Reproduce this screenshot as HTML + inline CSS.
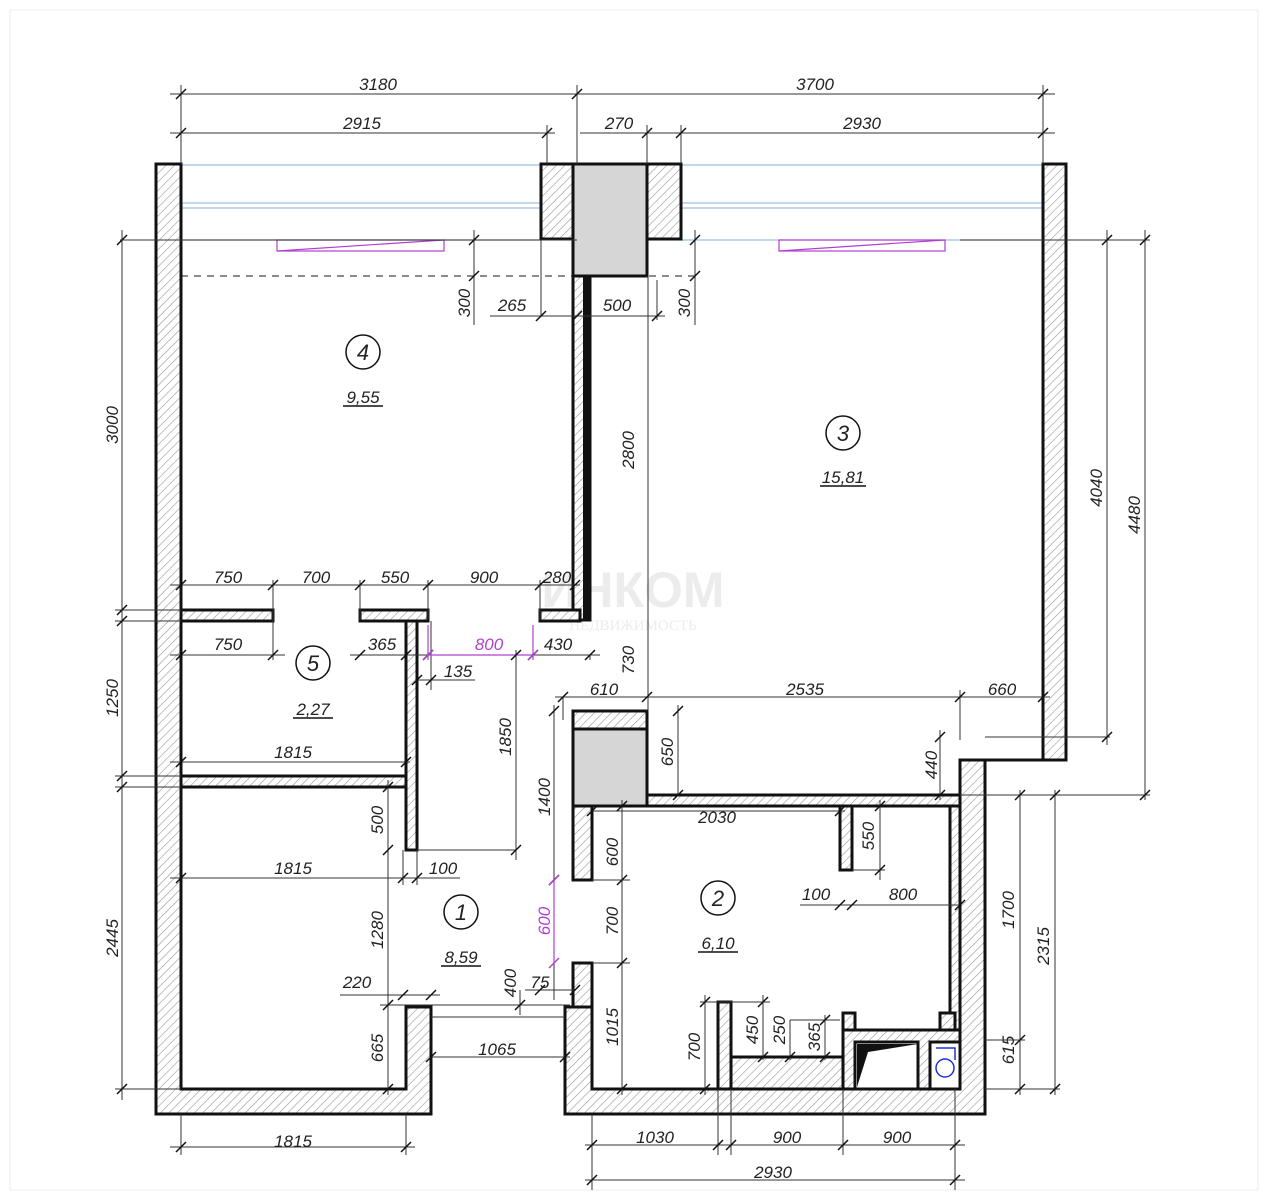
<!DOCTYPE html>
<html><head><meta charset="utf-8"><style>
html,body{margin:0;padding:0;background:#fff}
svg{display:block}
text{font-family:"Liberation Sans",sans-serif;font-style:italic;font-size:17px;fill:#222}
.w{fill:url(#h);stroke:#111;stroke-width:3}
.c{fill:#d6d6d6;stroke:#111;stroke-width:3}
.d{stroke:#333;stroke-width:1;fill:none}
.t{stroke:#111;stroke-width:1.5}
.m{stroke:#b040d0;stroke-width:1.2;fill:none}
.b{stroke:#9cbfe0;stroke-width:1.2;fill:none}
</style></head><body>
<svg width="1268" height="1200" viewBox="0 0 1268 1200" xmlns="http://www.w3.org/2000/svg">
<defs>
<pattern id="h" width="6" height="6" patternUnits="userSpaceOnUse" patternTransform="rotate(45)">
<rect width="6" height="6" fill="#fff"/><line x1="0" y1="0" x2="0" y2="6" stroke="#999" stroke-width="1.2"/></pattern>
</defs>
<rect x="10" y="10" width="1248" height="1180" fill="none" stroke="#eee"/>

<!-- watermark -->
<text x="633" y="607" text-anchor="middle" style="font-size:50px;font-weight:bold;font-style:normal;fill:#ececec">ИНКОМ</text>
<text x="633" y="630" text-anchor="middle" style="font-size:15px;font-style:normal;fill:#ececec;font-family:'Liberation Serif',serif">НЕДВИЖИМОСТЬ</text>

<!-- windows -->
<g class="b">
<line x1="181" y1="165" x2="541" y2="165"/><line x1="681" y1="165" x2="1043" y2="165"/>
<rect x="181" y="203" width="360" height="5"/><rect x="681" y="203" width="362" height="5"/>
<line x1="181" y1="240" x2="541" y2="240"/><line x1="681" y1="240" x2="1043" y2="240"/>
</g>
<rect x="277" y="240" width="167" height="11" class="m" stroke-width="2"/>
<line x1="277" y1="251" x2="444" y2="240" class="m" stroke-width="2"/>
<rect x="779" y="240" width="166" height="11" class="m" stroke-width="2"/>
<line x1="779" y1="251" x2="945" y2="240" class="m" stroke-width="2"/>
<line x1="181" y1="276" x2="700" y2="276" stroke="#666" stroke-width="1.5" stroke-dasharray="7,6"/>

<!-- walls -->
<path class="w" d="M156 164 H181 V1089 H406 V1007 H431 V1114 H156 Z"/>
<path class="w" d="M565 1007 H592 V1089 H960 V760 H1043 V164 H1066 V760 H985 V1114 H565 Z"/>
<rect class="w" x="541" y="164" width="32" height="75"/>
<rect class="c" x="573" y="164" width="74" height="112"/>
<rect class="w" x="647" y="164" width="34" height="75"/>
<rect class="w" x="573" y="276" width="17" height="344"/>
<rect x="583" y="276" width="7" height="344" fill="#111"/>
<rect class="w" x="181" y="610" width="92" height="11"/>
<rect class="w" x="360" y="610" width="68" height="11"/>
<rect class="w" x="540" y="610" width="40" height="11"/>
<rect class="w" x="181" y="776" width="236" height="11"/>
<rect class="w" x="406" y="621" width="11" height="229"/>
<rect class="w" x="573" y="711" width="74" height="18"/>
<rect class="c" x="573" y="729" width="74" height="77"/>
<rect class="w" x="647" y="795" width="313" height="11"/>
<rect class="w" x="573" y="806" width="19" height="74"/>
<rect class="w" x="573" y="963" width="19" height="44"/>
<rect class="w" x="840" y="806" width="12" height="64"/>
<rect class="w" x="950" y="806" width="10" height="230"/>
<rect class="w" x="718" y="1002" width="13" height="87"/>
<rect class="w" x="731" y="1057" width="112" height="32"/>
<rect class="w" x="843" y="1030" width="117" height="59"/>
<rect class="w" x="843" y="1013" width="12" height="17"/>
<rect class="w" x="940" y="1013" width="15" height="17"/>
<rect x="855" y="1042" width="63" height="47" fill="#fff" stroke="#111" stroke-width="3"/>
<path d="M857 1044 L918 1044 L868 1052 L857 1087 Z" fill="#111"/>
<rect x="930" y="1042" width="30" height="47" fill="#fff" stroke="#111" stroke-width="3"/>
<path d="M936 1048 H955 V1060" stroke="#2030d0" stroke-width="1.5" fill="none"/>
<circle cx="945" cy="1068" r="9" stroke="#2030d0" stroke-width="1.5" fill="none"/>

<!-- dimension lines -->
<g class="d">
<line x1="170" y1="94" x2="1055" y2="94"/><line x1="181" y1="85" x2="181" y2="164"/><line x1="577" y1="85" x2="577" y2="164"/><line x1="1043" y1="85" x2="1043" y2="164"/>
<line x1="170" y1="133" x2="555" y2="133"/><line x1="580" y1="133" x2="1055" y2="133"/><line x1="547" y1="125" x2="547" y2="164"/><line x1="647" y1="125" x2="647" y2="164"/><line x1="681" y1="125" x2="681" y2="164"/>
<line x1="120" y1="240" x2="577" y2="240"/><line x1="960" y1="240" x2="1150" y2="240"/>
<line x1="474" y1="230" x2="474" y2="325"/><line x1="490" y1="316" x2="665" y2="316"/><line x1="541" y1="240" x2="541" y2="316"/><line x1="657" y1="280" x2="657" y2="320"/><line x1="695" y1="230" x2="695" y2="325"/>
<line x1="122" y1="230" x2="122" y2="1100"/><line x1="115" y1="610" x2="181" y2="610"/><line x1="115" y1="621" x2="181" y2="621"/><line x1="115" y1="776" x2="181" y2="776"/><line x1="115" y1="787" x2="181" y2="787"/><line x1="115" y1="1089" x2="181" y2="1089"/>
<line x1="170" y1="585" x2="580" y2="585"/><line x1="273" y1="580" x2="273" y2="660"/><line x1="360" y1="580" x2="360" y2="620"/><line x1="428" y1="580" x2="428" y2="620"/><line x1="540" y1="580" x2="540" y2="620"/>
<line x1="170" y1="655" x2="285" y2="655"/><line x1="350" y1="655" x2="600" y2="655"/>
<line x1="417" y1="680" x2="475" y2="680"/><line x1="431" y1="621" x2="431" y2="690"/>
<line x1="170" y1="762" x2="410" y2="762"/>
<line x1="170" y1="878" x2="460" y2="878"/><line x1="403" y1="850" x2="403" y2="885"/><line x1="417" y1="850" x2="417" y2="885"/>
<line x1="417" y1="850" x2="516" y2="850"/><line x1="516" y1="650" x2="516" y2="860"/>
<line x1="388" y1="780" x2="388" y2="1095"/><line x1="380" y1="1005" x2="570" y2="1005"/>
<line x1="340" y1="995" x2="440" y2="995"/><line x1="431" y1="1017" x2="565" y2="1017"/>
<line x1="431" y1="1057" x2="570" y2="1057"/>
<line x1="520" y1="990" x2="520" y2="1015"/><line x1="525" y1="990" x2="575" y2="990"/>
<line x1="170" y1="1147" x2="415" y2="1147"/><line x1="181" y1="1114" x2="181" y2="1155"/><line x1="406" y1="1114" x2="406" y2="1155"/>
<line x1="648" y1="276" x2="648" y2="711"/><line x1="590" y1="655" x2="590" y2="660"/>
<line x1="555" y1="697" x2="1050" y2="697"/><line x1="563" y1="697" x2="563" y2="720"/><line x1="960" y1="690" x2="960" y2="740"/>
<line x1="554" y1="705" x2="554" y2="1000"/><line x1="678" y1="705" x2="678" y2="795"/>
<line x1="940" y1="730" x2="940" y2="800"/><line x1="985" y1="737" x2="1110" y2="737"/>
<line x1="1107" y1="230" x2="1107" y2="745"/><line x1="1145" y1="230" x2="1145" y2="800"/><line x1="960" y1="795" x2="1150" y2="795"/>
<line x1="592" y1="811" x2="845" y2="811"/>
<line x1="622" y1="800" x2="622" y2="1095"/><line x1="592" y1="880" x2="630" y2="880"/><line x1="592" y1="963" x2="630" y2="963"/>
<line x1="880" y1="800" x2="880" y2="880"/><line x1="852" y1="870" x2="885" y2="870"/>
<line x1="800" y1="905" x2="960" y2="905"/>
<line x1="1020" y1="790" x2="1020" y2="1095"/><line x1="1055" y1="790" x2="1055" y2="1095"/><line x1="985" y1="1040" x2="1025" y2="1040"/><line x1="985" y1="1089" x2="1060" y2="1089"/>
<line x1="705" y1="995" x2="705" y2="1095"/><line x1="700" y1="1002" x2="770" y2="1002"/><line x1="763" y1="995" x2="763" y2="1060"/><line x1="790" y1="1020" x2="790" y2="1060"/><line x1="825" y1="1015" x2="825" y2="1060"/><line x1="790" y1="1020" x2="840" y2="1020"/>
<line x1="585" y1="1145" x2="965" y2="1145"/><line x1="585" y1="1180" x2="965" y2="1180"/>
<line x1="592" y1="1114" x2="592" y2="1190"/><line x1="718" y1="1089" x2="718" y2="1155"/><line x1="731" y1="1089" x2="731" y2="1155"/><line x1="843" y1="1089" x2="843" y2="1155"/><line x1="955" y1="1089" x2="955" y2="1190"/>
</g>
<line class="m" x1="428" y1="655" x2="533" y2="655"/><line class="m" x1="428" y1="625" x2="428" y2="660"/><line class="m" x1="533" y1="625" x2="533" y2="660"/>
<line class="m" x1="554" y1="880" x2="554" y2="963"/>

<!-- ticks -->
<g class="t">
<path d="M176 99l10-10M572 99l10-10M1038 99l10-10M176 138l10-10M542 138l10-10M642 138l10-10M676 138l10-10M1038 138l10-10
M117 245l10-10M117 615l10-10M117 626l10-10M117 781l10-10M117 792l10-10M117 1094l10-10
M469 245l10-10M469 281l10-10M536 321l10-10M572 321l10-10M652 321l10-10M690 245l10-10M690 281l10-10
M176 590l10-10M268 590l10-10M355 590l10-10M423 590l10-10M535 590l10-10M570 590l10-10
M176 660l10-10M268 660l10-10M355 660l10-10M401 660l10-10M423 660l10-10M528 660l10-10M585 660l10-10
M412 685l10-10M426 685l10-10M176 767l10-10M401 767l10-10M176 883l10-10M398 883l10-10M412 883l10-10
M511 660l10-10M511 855l10-10M383 792l10-10M383 855l10-10M383 1010l10-10M383 1094l10-10
M398 1000l10-10M426 1000l10-10M426 1062l10-10M560 1062l10-10M515 1010l10-10M535 995l10-10M570 995l10-10
M176 1152l10-10M401 1152l10-10M558 702l10-10M642 702l10-10M955 702l10-10M1038 702l10-10
M549 716l10-10M549 885l10-10M673 716l10-10M673 800l10-10M935 742l10-10M935 800l10-10
M1102 245l10-10M1102 742l10-10M1140 245l10-10M1140 800l10-10
M587 816l10-10M835 816l10-10M617 811l10-10M617 885l10-10M617 968l10-10M617 1094l10-10
M875 811l10-10M875 875l10-10M835 910l10-10M847 910l10-10M955 910l10-10
M1015 800l10-10M1015 1045l10-10M1015 1094l10-10M1050 800l10-10M1050 1094l10-10
M700 1007l10-10M700 1094l10-10M758 1007l10-10M758 1062l10-10M785 1062l10-10M820 1025l10-10M820 1062l10-10
M587 1150l10-10M713 1150l10-10M726 1150l10-10M838 1150l10-10M950 1150l10-10M587 1185l10-10M950 1185l10-10"/>
</g>
<g stroke="#b040d0" stroke-width="1.5"><path d="M423 660l10-10M528 660l10-10M549 885l10-10M549 968l10-10"/></g>

<!-- dimension texts -->
<g>
<text x="378" y="90" text-anchor="middle">3180</text><text x="815" y="90" text-anchor="middle">3700</text>
<text x="362" y="129" text-anchor="middle">2915</text><text x="619" y="129" text-anchor="middle">270</text><text x="862" y="129" text-anchor="middle">2930</text>
<text x="512" y="311" text-anchor="middle">265</text><text x="617" y="311" text-anchor="middle">500</text>
<text x="228" y="583" text-anchor="middle">750</text><text x="316" y="583" text-anchor="middle">700</text><text x="395" y="583" text-anchor="middle">550</text><text x="484" y="583" text-anchor="middle">900</text><text x="557" y="583" text-anchor="middle">280</text>
<text x="228" y="650" text-anchor="middle">750</text><text x="382" y="650" text-anchor="middle">365</text><text x="489" y="650" text-anchor="middle" style="fill:#b040d0">800</text><text x="558" y="650" text-anchor="middle">430</text>
<text x="458" y="677" text-anchor="middle">135</text>
<text x="293" y="758" text-anchor="middle">1815</text><text x="293" y="874" text-anchor="middle">1815</text><text x="443" y="874" text-anchor="middle">100</text>
<text x="357" y="988" text-anchor="middle">220</text><text x="540" y="988" text-anchor="middle">75</text><text x="497" y="1055" text-anchor="middle">1065</text>
<text x="293" y="1147" text-anchor="middle">1815</text>
<text x="604" y="695" text-anchor="middle">610</text><text x="805" y="695" text-anchor="middle">2535</text><text x="1002" y="695" text-anchor="middle">660</text>
<text x="717" y="823" text-anchor="middle">2030</text><text x="816" y="900" text-anchor="middle">100</text><text x="903" y="900" text-anchor="middle">800</text>
<text x="655" y="1143" text-anchor="middle">1030</text><text x="787" y="1143" text-anchor="middle">900</text><text x="897" y="1143" text-anchor="middle">900</text>
<text x="773" y="1178" text-anchor="middle">2930</text>
</g>
<g>
<text transform="translate(470,303) rotate(-90)" text-anchor="middle">300</text>
<text transform="translate(690,303) rotate(-90)" text-anchor="middle">300</text>
<text transform="translate(118,425) rotate(-90)" text-anchor="middle">3000</text>
<text transform="translate(118,698) rotate(-90)" text-anchor="middle">1250</text>
<text transform="translate(118,938) rotate(-90)" text-anchor="middle">2445</text>
<text transform="translate(634,450) rotate(-90)" text-anchor="middle">2800</text>
<text transform="translate(634,660) rotate(-90)" text-anchor="middle">730</text>
<text transform="translate(511,737) rotate(-90)" text-anchor="middle">1850</text>
<text transform="translate(383,820) rotate(-90)" text-anchor="middle">500</text>
<text transform="translate(383,930) rotate(-90)" text-anchor="middle">1280</text>
<text transform="translate(383,1048) rotate(-90)" text-anchor="middle">665</text>
<text transform="translate(516,983) rotate(-90)" text-anchor="middle">400</text>
<text transform="translate(550,797) rotate(-90)" text-anchor="middle">1400</text>
<text transform="translate(550,921) rotate(-90)" text-anchor="middle" style="fill:#b040d0">600</text>
<text transform="translate(618,852) rotate(-90)" text-anchor="middle">600</text>
<text transform="translate(618,921) rotate(-90)" text-anchor="middle">700</text>
<text transform="translate(618,1027) rotate(-90)" text-anchor="middle">1015</text>
<text transform="translate(673,752) rotate(-90)" text-anchor="middle">650</text>
<text transform="translate(937,765) rotate(-90)" text-anchor="middle">440</text>
<text transform="translate(874,836) rotate(-90)" text-anchor="middle">550</text>
<text transform="translate(1102,488) rotate(-90)" text-anchor="middle">4040</text>
<text transform="translate(1140,515) rotate(-90)" text-anchor="middle">4480</text>
<text transform="translate(1014,910) rotate(-90)" text-anchor="middle">1700</text>
<text transform="translate(1049,946) rotate(-90)" text-anchor="middle">2315</text>
<text transform="translate(1014,1050) rotate(-90)" text-anchor="middle">615</text>
<text transform="translate(700,1047) rotate(-90)" text-anchor="middle">700</text>
<text transform="translate(758,1030) rotate(-90)" text-anchor="middle">450</text>
<text transform="translate(785,1030) rotate(-90)" text-anchor="middle">250</text>
<text transform="translate(820,1037) rotate(-90)" text-anchor="middle">365</text>
</g>

<!-- room labels -->
<g fill="none" stroke="#111" stroke-width="1.5">
<circle cx="363" cy="352" r="17"/><circle cx="843" cy="433" r="17"/><circle cx="313" cy="663" r="17"/><circle cx="461" cy="912" r="17"/><circle cx="718" cy="898" r="17"/>
<line x1="343" y1="406" x2="383" y2="406"/><line x1="820" y1="486" x2="866" y2="486"/><line x1="293" y1="718" x2="333" y2="718"/><line x1="441" y1="966" x2="481" y2="966"/><line x1="698" y1="952" x2="738" y2="952"/>
</g>
<g text-anchor="middle">
<text x="363" y="360" style="font-size:22px">4</text><text x="843" y="441" style="font-size:22px">3</text><text x="313" y="671" style="font-size:22px">5</text><text x="461" y="920" style="font-size:22px">1</text><text x="718" y="906" style="font-size:22px">2</text>
</g>
<g text-anchor="middle">
<text x="363" y="403">9,55</text><text x="843" y="483">15,81</text><text x="313" y="715">2,27</text><text x="461" y="963">8,59</text><text x="718" y="949">6,10</text>
</g>
</svg>
</body></html>
